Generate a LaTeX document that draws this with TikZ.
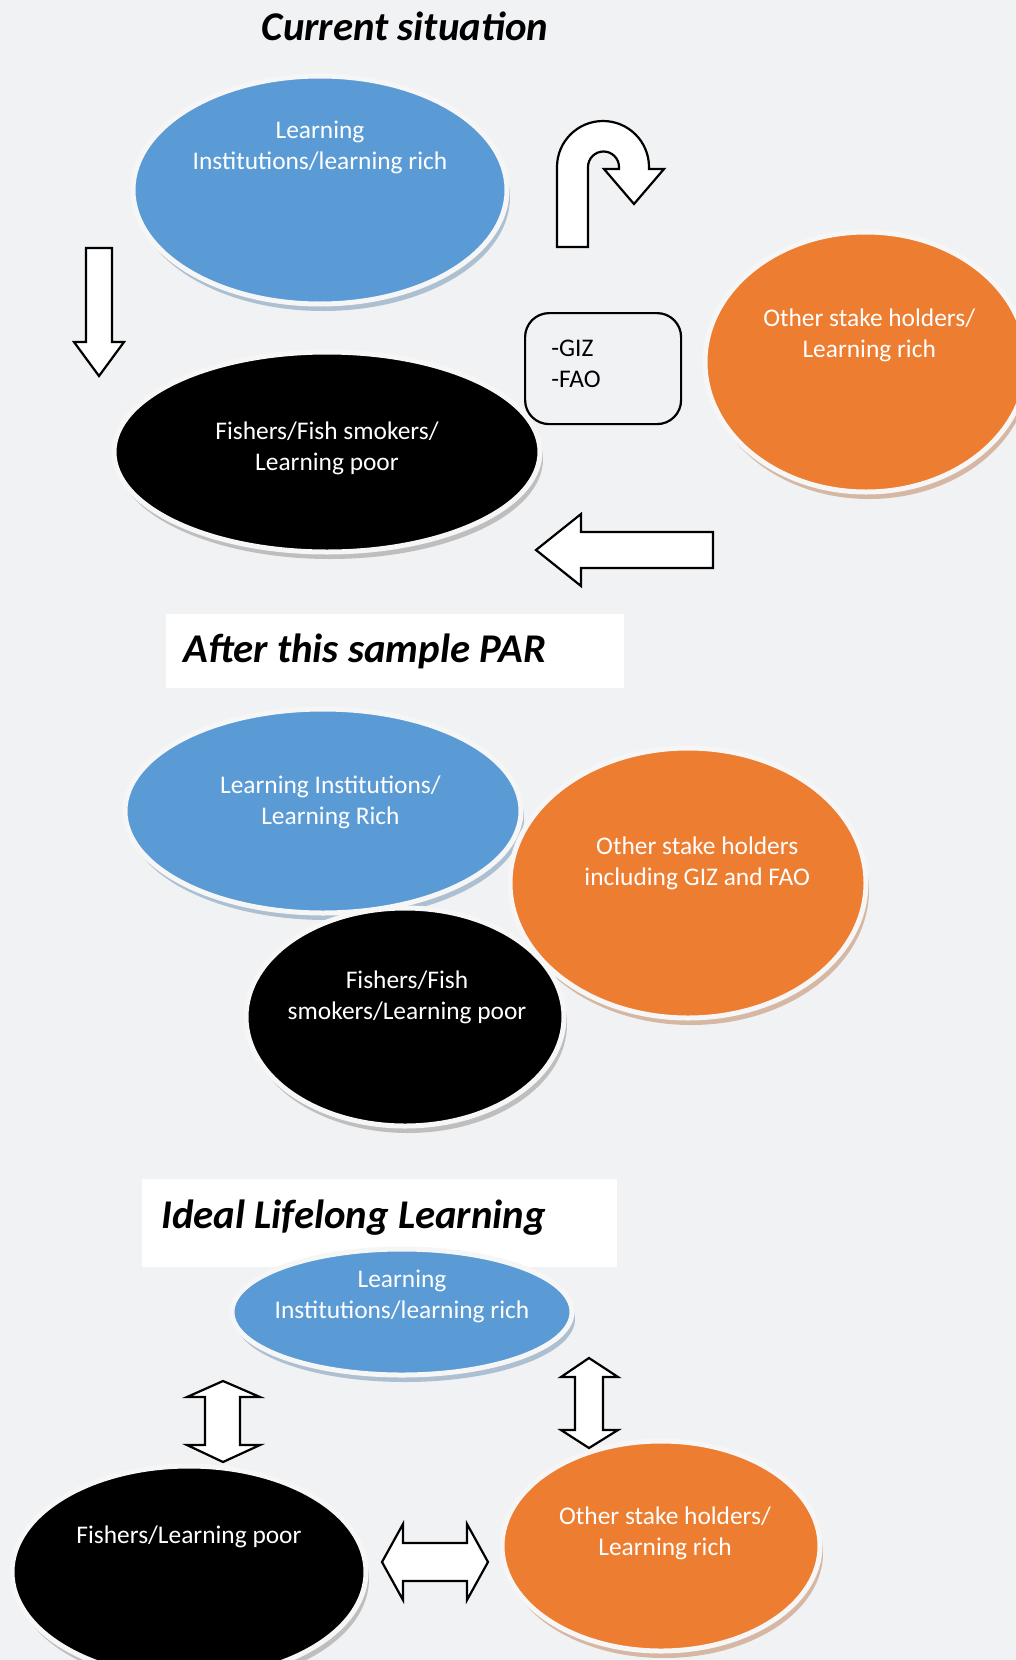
\documentclass[tikz,border=0pt]{standalone}
\usepackage{fontspec}
\setmainfont{Carlito}
\usepackage{tikz}
\usetikzlibrary{shapes.geometric,positioning,shadows}
\definecolor{skyfill}{HTML}{5B9BD5}
\definecolor{ambfill}{HTML}{ED7D31}
\definecolor{paper}{HTML}{F1F2F4}
\definecolor{rim}{HTML}{F6F6F6}

\begin{document}
\begin{tikzpicture}[
  x=0.5pt,y=-0.5pt,
  every node/.style={font=\fontsize{12.7}{15.5}\selectfont},
  blob/.style={ellipse,draw=rim,line width=2.5pt,inner sep=0pt},
  haze/.style={drop shadow={shadow xshift=1.5pt,shadow yshift=-3.5pt,fill=#1,opacity=.5}},
  txt/.style={align=center,text=white},
  heading/.style={font=\fontsize{20.4}{24}\selectfont\bfseries\itshape,inner sep=0pt},
  headbox/.style={fill=white,anchor=north west,inner sep=0pt},
  hollow/.style={draw=black,fill=white,line width=1.1pt,line join=miter}
]
\fill[paper] (0,0) rectangle (1016,1660);
\clip (0,0) rectangle (1016,1660);

% current situation
\node[heading] (head1) at (405,26) {Current situation};
\node[blob,haze=skyfill!55!gray,fill=skyfill,minimum width=187pt,minimum height=114pt] (lir1) at (320,190) {};
\node[txt] (lir1t) at ([yshift=21.5pt]lir1.center) {Learning\\Institutions/learning rich};
\node[blob,haze=black!45,fill=black,minimum width=213pt,minimum height=100pt] (flp1) at (327,452) {};
\node[txt] (flp1t) at ([yshift=1.9pt]flp1.center) {Fishers/Fish smokers/\\Learning poor};
\node[blob,haze=ambfill!55!gray,fill=ambfill,minimum width=161pt,minimum height=130pt] (osh1) at (866,362) {};
\node[txt] (osh1t) at ([xshift=1.6pt,yshift=13.2pt]osh1.center) {Other stake holders/\\Learning rich};
\node[draw,line width=1.1pt,rounded corners=12pt,anchor=north west,
  minimum width=78pt,minimum height=55.5pt] (giz) at (524,312) {};
\node[anchor=west,inner sep=0pt,align=left] (gizt) at ([xshift=13.5pt,yshift=2.6pt]giz.west) {-GIZ\\-FAO};

\draw[hollow] (86,248) -- (112,248) -- (112,342) -- (124,342) -- (99,376)
  -- (74,342) -- (86,342) -- cycle;
\draw[hollow] (557,247) -- (557,167) arc (180:360:46) -- (649,169) -- (664,169)
  -- (634,204) -- (604,169) -- (619,169) -- (619,167) arc (0:-180:15.5) -- (588,247) -- cycle;
\draw[hollow] (713,532) -- (713,568) -- (581,568) -- (581,586) -- (536,550)
  -- (581,514) -- (581,532) -- cycle;

% after the PAR
\node[headbox,minimum width=229pt,minimum height=37pt] (box2) at (166,614) {};
\node[heading,anchor=west] (head2) at ([xshift=8.5pt]box2.west) {After this sample PAR};
\node[blob,haze=skyfill!55!gray,fill=skyfill,minimum width=198pt,minimum height=102pt] (lir2) at (323,811) {};
\node[txt] (lir2t) at ([xshift=3.7pt,yshift=4.4pt]lir2.center) {Learning Institutions/\\Learning Rich};
\node[blob,haze=ambfill!55!gray,fill=ambfill,minimum width=178pt,minimum height=135pt] (osh2) at (688,883) {};
\node[txt] (osh2t) at ([xshift=4.6pt,yshift=10pt]osh2.center) {Other stake holders\\including GIZ and FAO};
\node[blob,haze=black!45,fill=black,minimum width=159pt,minimum height=109pt] (flp2) at (405,1017) {};
\node[txt] (flp2t) at ([xshift=1pt,yshift=10pt]flp2.center) {Fishers/Fish\\smokers/Learning poor};

% ideal
\node[headbox,minimum width=237.5pt,minimum height=44pt] (box3) at (142,1179) {};
\node[heading,anchor=west] (head3) at ([xshift=9.5pt,yshift=3pt]box3.west) {Ideal Lifelong Learning};
\node[blob,haze=skyfill!55!gray,fill=skyfill,minimum width=170pt,minimum height=63pt] (lir3) at (402,1312) {};
\node[txt] (lir3t) at ([yshift=8pt]lir3.center) {Learning\\Institutions/learning rich};
\node[blob,haze=black!45,fill=black,minimum width=177pt,minimum height=106pt] (flp3) at (189,1572) {};
\node[txt] (flp3t) at ([yshift=17.5pt]flp3.center) {Fishers/Learning poor};
\node[blob,haze=ambfill!55!gray,fill=ambfill,minimum width=159pt,minimum height=105pt] (osh3) at (661,1546) {};
\node[txt] (osh3t) at ([xshift=2pt,yshift=6.5pt]osh3.center) {Other stake holders/\\Learning rich};

\draw[hollow] (223,1381) -- (260,1397) -- (240,1397) -- (240,1445) -- (260,1445) -- (223,1462)
  -- (187,1445) -- (205,1445) -- (205,1397) -- (187,1397) -- cycle;
\draw[hollow] (589,1358) -- (618,1377) -- (603,1377) -- (603,1430) -- (618,1430) -- (589,1448)
  -- (561,1430) -- (575,1430) -- (575,1377) -- (561,1377) -- cycle;
\draw[hollow] (382,1562) -- (403,1524) -- (403,1543) -- (467,1543) -- (467,1524) -- (488,1562)
  -- (467,1600) -- (467,1581) -- (403,1581) -- (403,1600) -- cycle;
\end{tikzpicture}
\end{document}
